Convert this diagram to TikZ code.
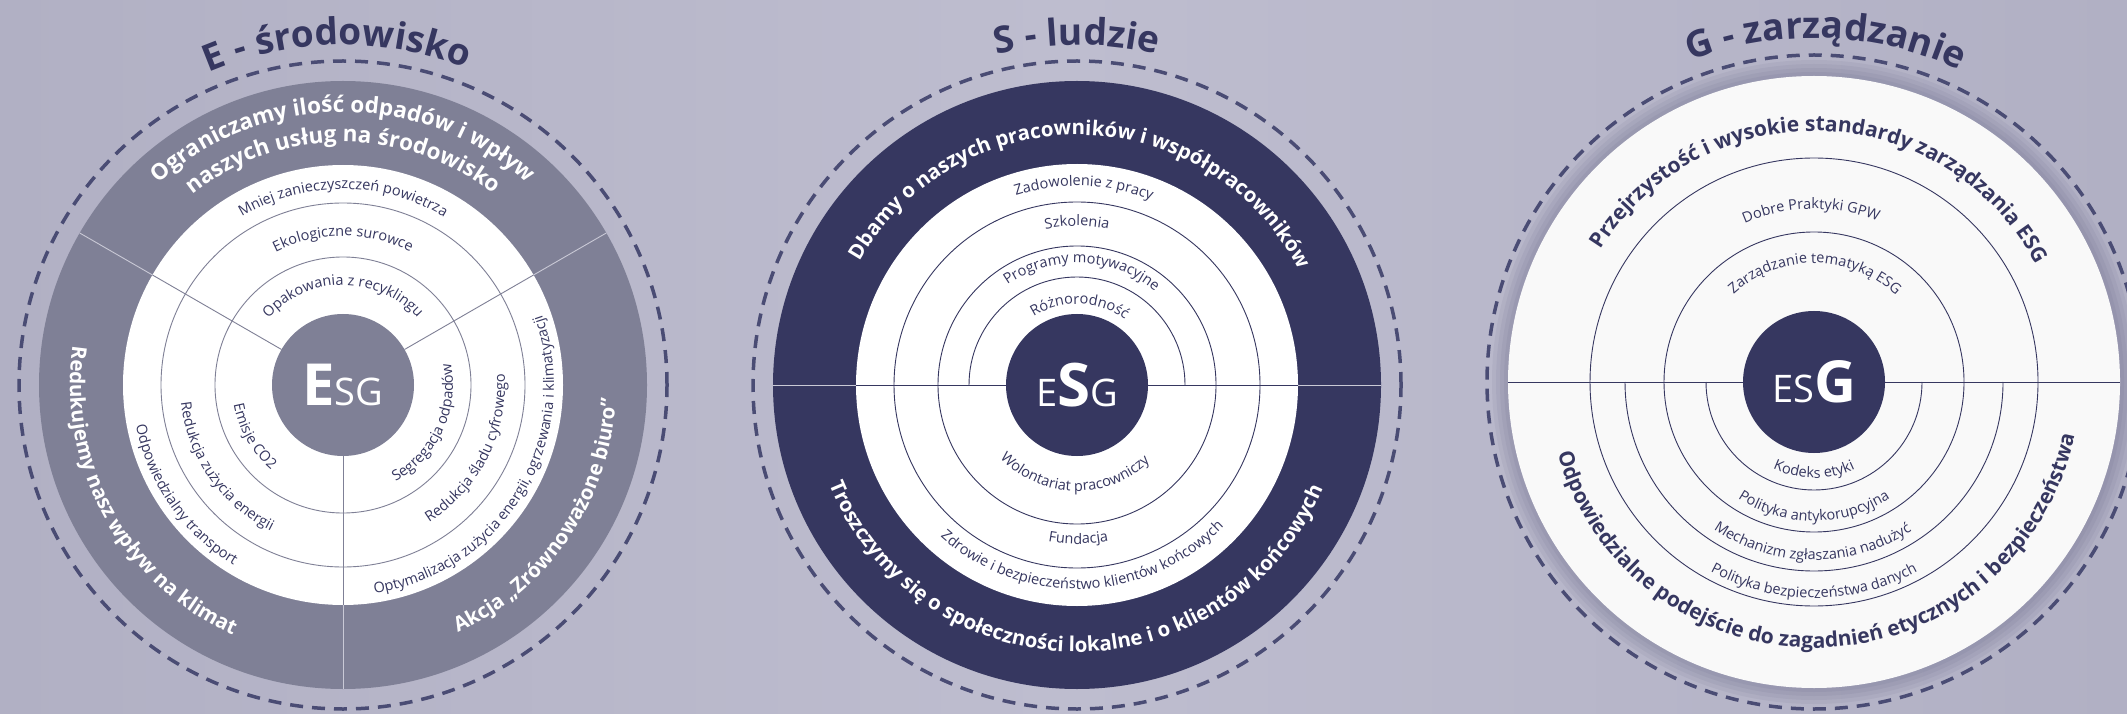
\documentclass[tikz,border=0pt]{standalone}
\usepackage{fontspec}
\setmainfont{Open Sans}
\usepackage{tikz}
\usetikzlibrary{decorations.text}

\definecolor{bgside}{HTML}{B1B0C4}
\definecolor{bgmid}{HTML}{BEBDCF}
\definecolor{ringgray}{HTML}{7F8096}
\definecolor{navy}{HTML}{363760}
\definecolor{dashcol}{HTML}{4A4C74}
\definecolor{softline}{HTML}{C9C9D6}
\definecolor{paper}{HTML}{F9F9F9}

\newcommand{\headw}{\bfseries\fontsize{20.5}{20.5}\selectfont\color{white}}
\newcommand{\headwl}{\bfseries\fontsize{22.5}{22.5}\selectfont\color{white}}
\newcommand{\headn}{\bfseries\fontsize{21}{21}\selectfont\color{navy}}
\newcommand{\labn}{\fontsize{14.5}{14.5}\selectfont\color{navy}}
\newcommand{\titlen}{\bfseries\fontsize{37}{37}\selectfont\color{navy}}

% text over the top, read clockwise
\newcommand{\toparc}[4]{\path[decorate,decoration={text along path,text align=center,text={|#3|#4}}]
  ({#1+90}:#2) arc[start angle={#1+90},end angle={#1-90},radius=#2];}
% text under or beside, read counterclockwise
\newcommand{\botarc}[4]{\path[decorate,decoration={text along path,text align=center,text={|#3|#4}}]
  ({#1-90}:#2) arc[start angle={#1-90},end angle={#1+90},radius=#2];}

\begin{document}
\begin{tikzpicture}[x=1pt,y=1pt,
    dashring/.style={dashcol,line width=3.5pt,dash pattern=on 13pt off 9pt},
    thin/.style={line width=0.9pt},
    core/.style={circle,minimum size=142pt,inner sep=0pt,text=white}]
\useasboundingbox (0,0) rectangle (2127,713);
\shade[left color=bgside,right color=bgside,middle color=bgmid] (0,0) rectangle (2127,713);

% E
\begin{scope}[shift={(343,328)}]
  \draw[dashring] (0,0) circle[radius=324];
  \fill[ringgray] (0,0) circle[radius=304];
  \fill[white] (0,0) circle[radius=220];
  \draw[thin,ringgray] (0,0) circle[radius=182] (0,0) circle[radius=128];
  \foreach \a in {30,150,270} {
    \draw[thin,softline] (\a:220) -- (\a:304);
    \draw[thin,ringgray] (\a:71) -- (\a:220);
  }
  \node[core,fill=ringgray] (esgE) at (0,0) {{\bfseries\fontsize{58}{58}\selectfont E}{\fontsize{38}{38}\selectfont SG}};
  \toparc{91}{340}{\titlen}{E - środowisko}
  \toparc{90}{273}{\headwl}{Ograniczamy ilość odpadów i wpływ}
  \toparc{90}{243}{\headwl}{naszych usług na środowisko}
  \toparc{90}{196}{\labn}{Mniej zanieczyszczeń powietrza}
  \toparc{90}{149}{\labn}{Ekologiczne surowce}
  \toparc{90}{100}{\labn}{Opakowania z recyklingu}
  \botarc{209}{273}{\headw}{Redukujemy nasz wpływ na klimat}
  \botarc{-34}{273}{\headw}{Akcja „Zrównoważone biuro”}
  \botarc{215}{211}{\labn}{Odpowiedzialny transport}
  \botarc{215}{163}{\labn}{Redukcja zużycia energii}
  \botarc{210}{111}{\labn}{Emisje CO2}
  \botarc{-31}{211}{\labn}{Optymalizacja zużycia energii, ogrzewania i klimatyzacji}
  \botarc{-27}{162}{\labn}{Redukcja śladu cyfrowego}
  \botarc{-25}{110}{\labn}{Segregacja odpadów}
\end{scope}

% S
\begin{scope}[shift={(1077,328)}]
  \draw[dashring] (0,0) circle[radius=324];
  \fill[navy] (0,0) circle[radius=304];
  \fill[white] (0,0) circle[radius=221];
  \draw[thin,navy] (0,0) circle[radius=183] (0,0) circle[radius=139];
  \draw[thin,navy] (108,0) arc[start angle=0,end angle=180,radius=108];
  \draw[thin,softline] (-304,0) -- (-221,0) (221,0) -- (304,0);
  \draw[thin,navy] (-221,0) -- (221,0);
  \node[core,fill=navy] (esgS) at (0,0) {{\fontsize{38}{38}\selectfont E}{\bfseries\fontsize{60}{60}\selectfont S}{\fontsize{38}{38}\selectfont G}};
  \toparc{90}{340}{\titlen}{S - ludzie}
  \toparc{89}{250}{\headw}{Dbamy o naszych pracowników i współpracowników}
  \toparc{88}{199}{\labn}{Zadowolenie z pracy}
  \toparc{90}{159}{\labn}{Szkolenia}
  \toparc{87.5}{122}{\labn}{Programy motywacyjne}
  \toparc{88}{81}{\labn}{Różnorodność}
  \botarc{269.5}{267}{\headw}{Troszczymy się o społeczności lokalne i o klientów końcowych}
  \botarc{268.5}{106}{\labn}{Wolontariat pracowniczy}
  \botarc{270.5}{159}{\labn}{Fundacja}
  \botarc{272}{204}{\labn}{Zdrowie i bezpieczeństwo klientów końcowych}
\end{scope}

% G
\begin{scope}[shift={(1814,331)}]
  \foreach \r in {322,318,...,307}
    \fill[navy,opacity=0.06] (0,0) circle[radius=\r];
  \draw[dashring] (0,0) circle[radius=327];
  \fill[paper] (0,0) circle[radius=306];
  \draw[thin,navy] (0,0) circle[radius=224] (0,0) circle[radius=150];
  \draw[thin,navy] (189,0) arc[start angle=0,end angle=-180,radius=189]
    (108,0) arc[start angle=0,end angle=-180,radius=108];
  \draw[thin,navy] (-306,0) -- (306,0);
  \node[core,fill=navy] (esgG) at (0,0) {{\fontsize{38}{38}\selectfont ES}{\bfseries\fontsize{58}{58}\selectfont G}};
  \toparc{88}{344}{\titlen}{G - zarządzanie}
  \toparc{88}{251}{\headn}{Przejrzystość i wysokie standardy zarządzania ESG}
  \toparc{91}{173}{\labn}{Dobre Praktyki GPW}
  \toparc{89.5}{119}{\labn}{Zarządzanie tematyką ESG}
  \botarc{272}{266}{\headn}{Odpowiedzialne podejście do zagadnień etycznych i bezpieczeństwa}
  \botarc{270}{96}{\labn}{Kodeks etyki}
  \botarc{270}{139}{\labn}{Polityka antykorupcyjna}
  \botarc{269.5}{178}{\labn}{Mechanizm zgłaszania nadużyć}
  \botarc{270}{216}{\labn}{Polityka bezpieczeństwa danych}
\end{scope}
\end{tikzpicture}
\end{document}
